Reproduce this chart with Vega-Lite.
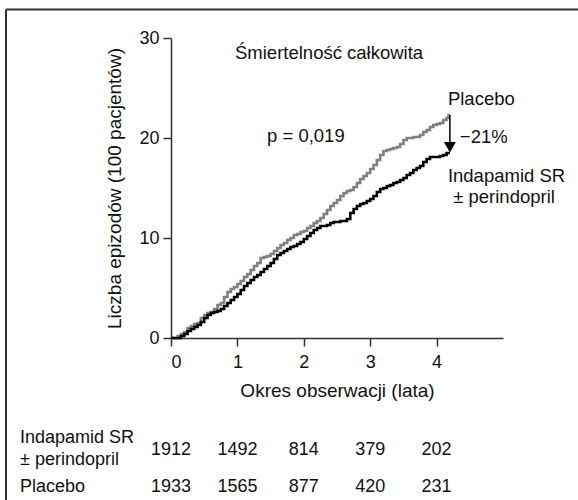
{
  "$schema": "https://vega.github.io/schema/vega-lite/v6.json",
  "autosize": {"type": "none"},
  "padding": {"left": 171, "top": 38, "right": 75, "bottom": 162},
  "width": 332,
  "height": 300,
  "background": "white",
  "config": {
    "view": {"stroke": null},
    "font": "Liberation Sans",
    "axis": {
      "grid": false,
      "domainColor": "#333",
      "domainWidth": 1.5,
      "tickColor": "#333",
      "tickWidth": 1.5,
      "tickSize": 8,
      "labelFont": "Liberation Sans",
      "labelFontSize": 18,
      "labelColor": "#111",
      "titleFont": "Liberation Sans",
      "titleFontSize": 19,
      "titleFontWeight": "normal",
      "titleColor": "#111"
    }
  },
  "datasets": {
    "curves": [
      {"t": 0, "v": 0, "g": "Placebo"}, {"t": 0.08, "v": 0, "g": "Placebo"}, {"t": 0.1, "v": 0.2, "g": "Placebo"}, {"t": 0.15, "v": 0.4, "g": "Placebo"}, {"t": 0.2, "v": 0.6, "g": "Placebo"}, {"t": 0.25, "v": 1.0, "g": "Placebo"}, {"t": 0.3, "v": 1.2, "g": "Placebo"}, {"t": 0.35, "v": 1.4, "g": "Placebo"}, {"t": 0.4, "v": 1.5, "g": "Placebo"}, {"t": 0.45, "v": 2.0, "g": "Placebo"}, {"t": 0.5, "v": 2.3, "g": "Placebo"}, {"t": 0.55, "v": 2.5, "g": "Placebo"}, {"t": 0.6, "v": 2.6, "g": "Placebo"}, {"t": 0.65, "v": 2.9, "g": "Placebo"}, {"t": 0.7, "v": 3.3, "g": "Placebo"}, {"t": 0.75, "v": 3.5, "g": "Placebo"}, {"t": 0.8, "v": 4.1, "g": "Placebo"}, {"t": 0.85, "v": 4.6, "g": "Placebo"}, {"t": 0.9, "v": 4.9, "g": "Placebo"}, {"t": 0.95, "v": 5.1, "g": "Placebo"}, {"t": 1.0, "v": 5.4, "g": "Placebo"}, {"t": 1.05, "v": 5.7, "g": "Placebo"}, {"t": 1.1, "v": 6.1, "g": "Placebo"}, {"t": 1.15, "v": 6.4, "g": "Placebo"}, {"t": 1.2, "v": 6.8, "g": "Placebo"}, {"t": 1.25, "v": 7.2, "g": "Placebo"}, {"t": 1.3, "v": 7.5, "g": "Placebo"}, {"t": 1.35, "v": 8.0, "g": "Placebo"}, {"t": 1.4, "v": 8.1, "g": "Placebo"}, {"t": 1.45, "v": 8.2, "g": "Placebo"}, {"t": 1.5, "v": 8.4, "g": "Placebo"}, {"t": 1.55, "v": 8.7, "g": "Placebo"}, {"t": 1.6, "v": 9.0, "g": "Placebo"}, {"t": 1.65, "v": 9.3, "g": "Placebo"}, {"t": 1.7, "v": 9.5, "g": "Placebo"}, {"t": 1.75, "v": 9.8, "g": "Placebo"}, {"t": 1.8, "v": 10.0, "g": "Placebo"}, {"t": 1.85, "v": 10.3, "g": "Placebo"}, {"t": 1.9, "v": 10.4, "g": "Placebo"}, {"t": 1.95, "v": 10.6, "g": "Placebo"}, {"t": 2.0, "v": 10.7, "g": "Placebo"}, {"t": 2.05, "v": 11.0, "g": "Placebo"}, {"t": 2.1, "v": 11.2, "g": "Placebo"}, {"t": 2.15, "v": 11.5, "g": "Placebo"}, {"t": 2.2, "v": 11.7, "g": "Placebo"}, {"t": 2.25, "v": 12.0, "g": "Placebo"}, {"t": 2.3, "v": 12.4, "g": "Placebo"}, {"t": 2.35, "v": 12.8, "g": "Placebo"}, {"t": 2.4, "v": 13.2, "g": "Placebo"}, {"t": 2.45, "v": 13.5, "g": "Placebo"}, {"t": 2.5, "v": 13.8, "g": "Placebo"}, {"t": 2.55, "v": 14.2, "g": "Placebo"}, {"t": 2.6, "v": 14.5, "g": "Placebo"}, {"t": 2.65, "v": 14.7, "g": "Placebo"}, {"t": 2.7, "v": 14.8, "g": "Placebo"}, {"t": 2.75, "v": 15.1, "g": "Placebo"}, {"t": 2.8, "v": 15.5, "g": "Placebo"}, {"t": 2.85, "v": 15.9, "g": "Placebo"}, {"t": 2.9, "v": 16.2, "g": "Placebo"}, {"t": 2.95, "v": 16.5, "g": "Placebo"}, {"t": 3.0, "v": 16.9, "g": "Placebo"}, {"t": 3.05, "v": 17.3, "g": "Placebo"}, {"t": 3.1, "v": 17.8, "g": "Placebo"}, {"t": 3.15, "v": 18.3, "g": "Placebo"}, {"t": 3.2, "v": 18.7, "g": "Placebo"}, {"t": 3.25, "v": 18.8, "g": "Placebo"}, {"t": 3.3, "v": 18.9, "g": "Placebo"}, {"t": 3.35, "v": 19.0, "g": "Placebo"}, {"t": 3.4, "v": 19.1, "g": "Placebo"}, {"t": 3.45, "v": 19.4, "g": "Placebo"}, {"t": 3.5, "v": 19.8, "g": "Placebo"}, {"t": 3.55, "v": 20.0, "g": "Placebo"}, {"t": 3.6, "v": 20.0, "g": "Placebo"}, {"t": 3.65, "v": 20.1, "g": "Placebo"}, {"t": 3.7, "v": 20.1, "g": "Placebo"}, {"t": 3.75, "v": 20.3, "g": "Placebo"}, {"t": 3.8, "v": 20.6, "g": "Placebo"}, {"t": 3.85, "v": 20.8, "g": "Placebo"}, {"t": 3.9, "v": 21.1, "g": "Placebo"}, {"t": 3.95, "v": 21.3, "g": "Placebo"}, {"t": 4.0, "v": 21.4, "g": "Placebo"}, {"t": 4.05, "v": 21.5, "g": "Placebo"}, {"t": 4.1, "v": 21.8, "g": "Placebo"}, {"t": 4.15, "v": 22.0, "g": "Placebo"}, {"t": 4.18, "v": 22.3, "g": "Placebo"}, {"t": 4.2, "v": 22.3, "g": "Placebo"},
      {"t": 0, "v": 0, "g": "Indapamid"}, {"t": 0.12, "v": 0, "g": "Indapamid"}, {"t": 0.15, "v": 0.2, "g": "Indapamid"}, {"t": 0.2, "v": 0.4, "g": "Indapamid"}, {"t": 0.25, "v": 0.7, "g": "Indapamid"}, {"t": 0.3, "v": 0.9, "g": "Indapamid"}, {"t": 0.35, "v": 1.1, "g": "Indapamid"}, {"t": 0.4, "v": 1.3, "g": "Indapamid"}, {"t": 0.45, "v": 1.6, "g": "Indapamid"}, {"t": 0.5, "v": 2.0, "g": "Indapamid"}, {"t": 0.55, "v": 2.3, "g": "Indapamid"}, {"t": 0.6, "v": 2.5, "g": "Indapamid"}, {"t": 0.65, "v": 2.6, "g": "Indapamid"}, {"t": 0.7, "v": 2.7, "g": "Indapamid"}, {"t": 0.75, "v": 2.9, "g": "Indapamid"}, {"t": 0.8, "v": 3.2, "g": "Indapamid"}, {"t": 0.85, "v": 3.5, "g": "Indapamid"}, {"t": 0.9, "v": 3.8, "g": "Indapamid"}, {"t": 0.95, "v": 4.1, "g": "Indapamid"}, {"t": 1.0, "v": 4.4, "g": "Indapamid"}, {"t": 1.05, "v": 4.8, "g": "Indapamid"}, {"t": 1.1, "v": 5.2, "g": "Indapamid"}, {"t": 1.15, "v": 5.5, "g": "Indapamid"}, {"t": 1.2, "v": 5.8, "g": "Indapamid"}, {"t": 1.25, "v": 6.1, "g": "Indapamid"}, {"t": 1.3, "v": 6.3, "g": "Indapamid"}, {"t": 1.35, "v": 6.6, "g": "Indapamid"}, {"t": 1.4, "v": 6.9, "g": "Indapamid"}, {"t": 1.45, "v": 7.2, "g": "Indapamid"}, {"t": 1.5, "v": 7.5, "g": "Indapamid"}, {"t": 1.55, "v": 7.9, "g": "Indapamid"}, {"t": 1.6, "v": 8.3, "g": "Indapamid"}, {"t": 1.65, "v": 8.5, "g": "Indapamid"}, {"t": 1.7, "v": 8.7, "g": "Indapamid"}, {"t": 1.75, "v": 8.9, "g": "Indapamid"}, {"t": 1.8, "v": 9.1, "g": "Indapamid"}, {"t": 1.85, "v": 9.2, "g": "Indapamid"}, {"t": 1.9, "v": 9.4, "g": "Indapamid"}, {"t": 1.95, "v": 9.6, "g": "Indapamid"}, {"t": 2.0, "v": 9.9, "g": "Indapamid"}, {"t": 2.05, "v": 10.2, "g": "Indapamid"}, {"t": 2.1, "v": 10.5, "g": "Indapamid"}, {"t": 2.15, "v": 10.8, "g": "Indapamid"}, {"t": 2.2, "v": 11.0, "g": "Indapamid"}, {"t": 2.25, "v": 11.2, "g": "Indapamid"}, {"t": 2.3, "v": 11.2, "g": "Indapamid"}, {"t": 2.35, "v": 11.3, "g": "Indapamid"}, {"t": 2.4, "v": 11.5, "g": "Indapamid"}, {"t": 2.45, "v": 11.6, "g": "Indapamid"}, {"t": 2.5, "v": 11.6, "g": "Indapamid"}, {"t": 2.55, "v": 11.7, "g": "Indapamid"}, {"t": 2.6, "v": 11.7, "g": "Indapamid"}, {"t": 2.65, "v": 11.9, "g": "Indapamid"}, {"t": 2.7, "v": 12.5, "g": "Indapamid"}, {"t": 2.75, "v": 12.9, "g": "Indapamid"}, {"t": 2.8, "v": 13.2, "g": "Indapamid"}, {"t": 2.85, "v": 13.4, "g": "Indapamid"}, {"t": 2.9, "v": 13.5, "g": "Indapamid"}, {"t": 2.95, "v": 13.7, "g": "Indapamid"}, {"t": 3.0, "v": 13.9, "g": "Indapamid"}, {"t": 3.05, "v": 14.2, "g": "Indapamid"}, {"t": 3.1, "v": 14.6, "g": "Indapamid"}, {"t": 3.15, "v": 14.9, "g": "Indapamid"}, {"t": 3.2, "v": 15.0, "g": "Indapamid"}, {"t": 3.25, "v": 15.2, "g": "Indapamid"}, {"t": 3.3, "v": 15.3, "g": "Indapamid"}, {"t": 3.35, "v": 15.5, "g": "Indapamid"}, {"t": 3.4, "v": 15.6, "g": "Indapamid"}, {"t": 3.45, "v": 15.8, "g": "Indapamid"}, {"t": 3.5, "v": 16.0, "g": "Indapamid"}, {"t": 3.55, "v": 16.3, "g": "Indapamid"}, {"t": 3.6, "v": 16.5, "g": "Indapamid"}, {"t": 3.65, "v": 16.8, "g": "Indapamid"}, {"t": 3.7, "v": 17.0, "g": "Indapamid"}, {"t": 3.75, "v": 17.2, "g": "Indapamid"}, {"t": 3.8, "v": 17.6, "g": "Indapamid"}, {"t": 3.85, "v": 17.9, "g": "Indapamid"}, {"t": 3.9, "v": 18.1, "g": "Indapamid"}, {"t": 3.95, "v": 18.1, "g": "Indapamid"}, {"t": 4.0, "v": 18.1, "g": "Indapamid"}, {"t": 4.05, "v": 18.2, "g": "Indapamid"}, {"t": 4.1, "v": 18.3, "g": "Indapamid"}, {"t": 4.15, "v": 18.5, "g": "Indapamid"}, {"t": 4.2, "v": 18.5, "g": "Indapamid"}
    ],
    "notes": [
      {"x": 0.964, "y": 27.9, "label": "Śmiertelność całkowita"},
      {"x": 1.446, "y": 19.6, "label": "p = 0,019"},
      {"x": 4.17, "y": 23.3, "label": "Placebo"},
      {"x": 4.35, "y": 19.5, "label": "−21%"},
      {"x": 4.17, "y": 15.6, "label": "Indapamid SR"},
      {"x": 4.25, "y": 13.5, "label": "± perindopril"}
    ],
    "rowlabels": [
      {"x": -2.274, "y": -10.5, "label": "Indapamid SR"},
      {"x": -2.274, "y": -12.66, "label": "± perindopril"},
      {"x": -2.274, "y": -15.4, "label": "Placebo"}
    ],
    "atrisk": [
      {"x": 0, "y": -11.7, "n": "1912"}, {"x": 1, "y": -11.7, "n": "1492"}, {"x": 2, "y": -11.7, "n": "814"}, {"x": 3, "y": -11.7, "n": "379"}, {"x": 4, "y": -11.7, "n": "202"},
      {"x": 0, "y": -15.4, "n": "1933"}, {"x": 1, "y": -15.4, "n": "1565"}, {"x": 2, "y": -15.4, "n": "877"}, {"x": 3, "y": -15.4, "n": "420"}, {"x": 4, "y": -15.4, "n": "231"}
    ],
    "arrow": [{"x": 4.2, "y": 22.3, "y2": 19.4}],
    "arrowhead": [{"x": 4.2, "y": 19.07}],
    "frame": [
      {"x": -2.485, "x2": 6.5, "y": 32.85, "y2": 32.85},
      {"x": -2.485, "x2": -2.485, "y": 32.85, "y2": -18}
    ]
  },
  "layer": [
    {
      "data": {"name": "frame"},
      "mark": {"type": "rule", "color": "#333", "strokeWidth": 2},
      "encoding": {
        "x": {"field": "x", "type": "quantitative", "scale": {"domain": [0, 5]}},
        "x2": {"field": "x2"},
        "y": {"field": "y", "type": "quantitative", "scale": {"domain": [0, 30]}},
        "y2": {"field": "y2"}
      }
    },
    {
      "data": {"name": "curves"},
      "transform": [{"filter": "datum.g === 'Placebo'"}],
      "mark": {"type": "line", "interpolate": "step-after", "color": "#808080", "strokeWidth": 2.6},
      "encoding": {
        "x": {"field": "t", "type": "quantitative", "scale": {"domain": [0, 5]},
          "axis": {"values": [0, 1, 2, 3, 4], "format": "d", "title": "Okres obserwacji (lata)", "labelPadding": 7, "titlePadding": 10}},
        "y": {"field": "v", "type": "quantitative", "scale": {"domain": [0, 30]},
          "axis": {"values": [0, 10, 20, 30], "format": "d", "title": "Liczba epizodów (100 pacjentów)", "labelPadding": 4, "titlePadding": 14}}
      }
    },
    {
      "data": {"name": "curves"},
      "transform": [{"filter": "datum.g === 'Indapamid'"}],
      "mark": {"type": "line", "interpolate": "step-after", "color": "#000", "strokeWidth": 2.6},
      "encoding": {
        "x": {"field": "t", "type": "quantitative"},
        "y": {"field": "v", "type": "quantitative"}
      }
    },
    {
      "data": {"name": "arrow"},
      "mark": {"type": "rule", "color": "#000", "strokeWidth": 1.5},
      "encoding": {
        "x": {"field": "x", "type": "quantitative"},
        "y": {"field": "y", "type": "quantitative"},
        "y2": {"field": "y2"}
      }
    },
    {
      "data": {"name": "arrowhead"},
      "mark": {"type": "point", "shape": "triangle-down", "filled": true, "color": "#000", "size": 144, "opacity": 1},
      "encoding": {
        "x": {"field": "x", "type": "quantitative"},
        "y": {"field": "y", "type": "quantitative"}
      }
    },
    {
      "data": {"name": "notes"},
      "mark": {"type": "text", "align": "left", "baseline": "alphabetic", "fontSize": 18.5, "color": "#111"},
      "encoding": {
        "x": {"field": "x", "type": "quantitative"},
        "y": {"field": "y", "type": "quantitative"},
        "text": {"field": "label"}
      }
    },
    {
      "data": {"name": "rowlabels"},
      "mark": {"type": "text", "align": "left", "baseline": "alphabetic", "fontSize": 18, "color": "#111"},
      "encoding": {
        "x": {"field": "x", "type": "quantitative"},
        "y": {"field": "y", "type": "quantitative"},
        "text": {"field": "label"}
      }
    },
    {
      "data": {"name": "atrisk"},
      "mark": {"type": "text", "align": "center", "baseline": "alphabetic", "fontSize": 18, "color": "#111"},
      "encoding": {
        "x": {"field": "x", "type": "quantitative"},
        "y": {"field": "y", "type": "quantitative"},
        "text": {"field": "n"}
      }
    }
  ]
}
